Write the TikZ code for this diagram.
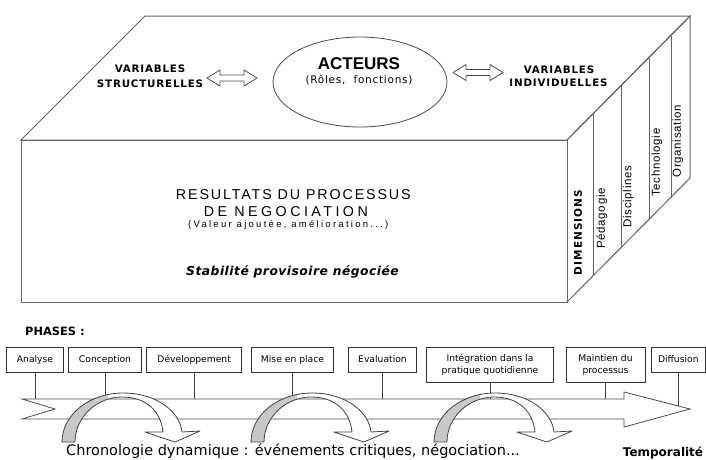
\documentclass[tikz,border=0pt]{standalone}
\usepackage{fontspec}
\setmainfont{Liberation Sans}
\newfontfamily\vfont{DejaVu Sans}
\usetikzlibrary{calc}

\newcommand\fsz[2]{\fontsize{#1}{#2}\selectfont}
\newcommand\uturnpath{(0,0) .. controls (0,-27) and (27,-49) .. (61,-49) .. controls (95,-49) and (118,-30) .. (120,-10) -- (138,-11) -- (113,0) -- (83,-10) -- (101,-10) .. controls (99,-30) and (85,-45) .. (60,-45) .. controls (35,-45) and (13,-25) .. (13,0) -- cycle}
\definecolor{uturngray}{RGB}{200,200,200}
\definecolor{cubeline}{RGB}{100,100,100}

\tikzset{
  cube/.style={draw=cubeline, line width=1pt, line join=miter},
  txt/.style={inner sep=0pt, anchor=base},
  vartxt/.style={txt, font=\vfont\bfseries\addfontfeature{LetterSpace=8}\fsz{10.3}{12}},
  dimtxt/.style={inner sep=0pt, rotate=90, font=\addfontfeature{LetterSpace=6}\fsz{11.5}{13}},
  phasebox/.style={draw=black!80, line width=0.8pt, fill=white, inner sep=0pt, align=center,
                   minimum height=25pt, font=\vfont\fsz{9.2}{12}},
  tallbox/.style={phasebox, minimum height=35pt},
  stem/.style={draw=black!75, line width=0.8pt},
  uturn/.pic={
    \path[fill=white] \uturnpath;
    \begin{scope}
      \clip \uturnpath;
      \fill[uturngray] (-5,-60) rectangle (46,5);
    \end{scope}
    \draw[black!75, line width=0.8pt, line join=round] \uturnpath;
  },
  dblarrow/.pic={
    \draw[black!70, line width=0.8pt, fill=white, line join=round]
      (-25,0) -- (-12,-8) -- (-12,-3) -- (12,-3) -- (12,-8) -- (25,0)
      -- (12,8) -- (12,3) -- (-12,3) -- (-12,8) -- cycle;
  }
}

\begin{document}
\begin{tikzpicture}[x=1pt, y=-1pt]
\useasboundingbox[fill=white] (0,0) rectangle (706,459);

% ---------- cube ----------
\draw[cube] (145,16) -- (690,16) -- (567,140) -- (21,140) -- cycle;
\draw[cube] (21,140) rectangle (567,302);
\draw[cube] (567,140) -- (690,16) -- (690,178) -- (567,302);
\draw[cube] (593,114) -- (593,276);
\draw[cube] (621,86) -- (621,248);
\draw[cube] (649,58) -- (649,220);
\draw[cube] (671,36) -- (671,198);

% top face
\draw[black!70, line width=0.8pt] (360,82) ellipse [x radius=87pt, y radius=45pt];
\node[txt, font=\bfseries\fsz{17}{20}] (act) at (359,69.3) {ACTEURS};
\node[txt, font=\vfont\addfontfeature{LetterSpace=7}\fsz{10.5}{12}] (roles) at (359,83.3) {(Rôles,\ \ fonctions)};

\node[vartxt] (vs1) at (150,72.7) {VARIABLES};
\node[vartxt] (vs2) at (150,87.3) {STRUCTURELLES};
\node[vartxt] (vi1) at (559,73.3) {VARIABLES};
\node[vartxt] (vi2) at (558.5,86.7) {INDIVIDUELLES};
\pic at (232,78) {dblarrow};
\pic at (478,72.5) {dblarrow};

% front face
\node[txt, font=\addfontfeature{LetterSpace=13}\fsz{14.3}{16}] (res1) at (293.3,199) {RESULTATS DU PROCESSUS};
\node[txt, font=\addfontfeature{LetterSpace=24}\fsz{14.3}{16}] (res2) at (285.8,216.8) {DE NEGOCIATION};
\node[txt, font=\addfontfeature{LetterSpace=24}\fsz{9.5}{11}] (res3) at (288.3,227.2) {(Valeur ajoutée, amélioration...)};
\node[txt, font=\vfont\bfseries\itshape\addfontfeature{LetterSpace=4}\fsz{12.3}{14}] (stab) at (292.5,275) {Stabilité provisoire négociée};

% right face
\node[inner sep=0pt, rotate=90, font=\vfont\bfseries\addfontfeature{LetterSpace=10}\fsz{10.5}{12}] (dim) at (578,232.5) {DIMENSIONS};
\node[dimtxt] (ped) at (601.7,218.5) {Pédagogie};
\node[dimtxt] (dis) at (628.5,196.7) {Disciplines};
\node[dimtxt] (tec) at (657,162.5) {Technologie};
\node[dimtxt] (org) at (678,141) {Organisation};

% ---------- phases ----------
\node[txt, anchor=base west, font=\vfont\bfseries\fsz{11.4}{13}] (phases) at (25,335) {PHASES :};

\draw[draw=black!70, line width=0.8pt, fill=white, line join=miter]
  (22,399) -- (624,399) -- (624,392) -- (690,409) -- (624,427) -- (624,419) -- (22,419) -- (55,409) -- cycle;
\coordinate (shafttop) at (0,399);
\coordinate (dend) at (678.3,406);

\node[phasebox, minimum width=56.6pt] (ana) at (35,359.5) {Analyse};
\node[phasebox, minimum width=73.4pt] (con) at (105,359.5) {Conception};
\node[phasebox, minimum width=95pt] (dev) at (194.2,359.5) {Développement};
\node[phasebox, minimum width=81.6pt] (mep) at (292.5,359.5) {Mise en place};
\node[phasebox, minimum width=68.4pt] (eva) at (382.5,359.5) {Evaluation};
\node[tallbox, minimum width=126.6pt] (int) at (490,364.5) {Intégration dans la\\pratique quotidienne};
\node[tallbox, minimum width=79pt] (mai) at (605.5,364.5) {Maintien du\\processus};
\node[phasebox, minimum width=53.3pt] (dif) at (678.3,359.5) {Diffusion};

\foreach \b in {ana,con,dev,mep,eva,int,mai}
  \draw[stem] (\b.south) -- (\b.south |- shafttop);
\draw[stem] (dif.south) -- (dend);

\pic at (62,442) {uturn};
\pic at (251,442) {uturn};
\pic at (434,442) {uturn};

\node[txt, font=\vfont\fsz{14.5}{16}] (chrono) at (293,455.3) {Chronologie dynamique : événements critiques, négociation...};
\node[txt, font=\vfont\bfseries\fsz{12}{14}] (temp) at (663,456) {Temporalité};
\end{tikzpicture}
\end{document}
